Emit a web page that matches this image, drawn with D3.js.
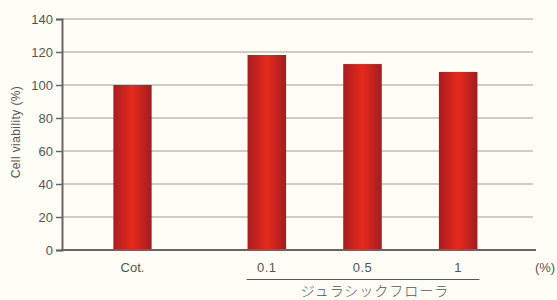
<!DOCTYPE html>
<html>
<head>
<meta charset="utf-8">
<script src="https://cdn.jsdelivr.net/npm/d3@7"></script>
<style>
  body { margin: 0; background: #fffef6; }
  svg { display: block; }
  text { font-family: "Liberation Sans", Arial, sans-serif; fill: #555; }
</style>
</head>
<body>
<svg width="557" height="300"></svg>
<script>
var svg = d3.select("svg"),
    width = +svg.attr("width"),
    height = +svg.attr("height");

// data
var controlCats = ["Cot."];
var controlVals = [100];
var concCats = ["0.1", "0.5", "1"];
var concVals = [118.2, 112.7, 107.9];
var yTicks = [0, 20, 40, 60, 80, 100, 120, 140];
var groupLabel = "ジュラシックフローラ";

let margin = { left: 62, right: 22, top: 19, bottom: 50 };

var y = d3.scaleLinear()
    .domain([0, 140])
    .range([height - margin.bottom, margin.top]);

// control group and concentration group sit in separate bands
var pad = 0.597;
var xConc = d3.scaleBand()
    .domain(concCats)
    .range([219, 506])
    .paddingInner(pad)
    .paddingOuter(pad / 2);

var xCtrl = d3.scaleBand()
    .domain(controlCats)
    .range([85, 180])
    .paddingInner(pad)
    .paddingOuter(pad / 2);

var defs = svg.append("defs");
var grad = defs.append("linearGradient")
    .attr("id", "barGrad")
    .attr("x1", "0%").attr("x2", "100%")
    .attr("y1", "0%").attr("y2", "0%");
grad.append("stop").attr("offset", "0%").attr("stop-color", "#a91c22");
grad.append("stop").attr("offset", "50%").attr("stop-color", "#e72a1a");
grad.append("stop").attr("offset", "100%").attr("stop-color", "#a21c23");

// grid lines
svg.append("g")
    .selectAll("line")
    .data(yTicks.filter(function(d) { return d > 0; }))
    .enter().append("line")
        .attr("x1", margin.left)
        .attr("x2", 533)
        .attr("y1", function(d) { return y(d); })
        .attr("y2", function(d) { return y(d); })
        .attr("stroke", "#bdbbb5")
        .attr("stroke-width", 1.5);

// bars
var bars = svg.append("g");
bars.selectAll("rect.ctrl")
    .data(controlCats)
    .enter().append("rect")
        .attr("class", "ctrl")
        .attr("x", function(d) { return xCtrl(d); })
        .attr("width", xCtrl.bandwidth())
        .attr("y", function(d, i) { return y(controlVals[i]); })
        .attr("height", function(d, i) { return y(0) - y(controlVals[i]); })
        .attr("fill", "url(#barGrad)");

bars.selectAll("rect.conc")
    .data(concCats)
    .enter().append("rect")
        .attr("class", "conc")
        .attr("x", function(d) { return xConc(d); })
        .attr("width", xConc.bandwidth())
        .attr("y", function(d, i) { return y(concVals[i]); })
        .attr("height", function(d, i) { return y(0) - y(concVals[i]); })
        .attr("fill", "url(#barGrad)");

// y axis
var yAxis = svg.append("g")
    .attr("transform", "translate(" + margin.left + ",0)")
    .call(d3.axisLeft(y).tickValues(yTicks).tickSize(6).tickPadding(3));
yAxis.select(".domain").attr("stroke", "#666").attr("stroke-width", 2);
yAxis.selectAll(".tick line").attr("stroke", "#666").attr("stroke-width", 1.5);
yAxis.selectAll(".tick text")
    .attr("font-size", "13px")
    .attr("font-family", "Liberation Sans, Arial, sans-serif")
    .attr("fill", "#555");

// x axis line
svg.append("line")
    .attr("x1", margin.left - 1)
    .attr("x2", 536)
    .attr("y1", y(0))
    .attr("y2", y(0))
    .attr("stroke", "#666")
    .attr("stroke-width", 2);

// x labels
var labelY = y(0) + 22;
svg.append("g").selectAll("text")
    .data(controlCats)
    .enter().append("text")
        .attr("x", function(d) { return xCtrl(d) + xCtrl.bandwidth() / 2; })
        .attr("y", labelY)
        .attr("text-anchor", "middle")
        .attr("font-size", "13px")
        .text(function(d) { return d; });

svg.append("g").selectAll("text")
    .data(concCats)
    .enter().append("text")
        .attr("x", function(d) { return xConc(d) + xConc.bandwidth() / 2; })
        .attr("y", labelY)
        .attr("text-anchor", "middle")
        .attr("font-size", "13px")
        .style("letter-spacing", "0.5px")
        .text(function(d) { return d; });

svg.append("text")
    .attr("x", 545)
    .attr("y", labelY)
    .attr("text-anchor", "middle")
    .attr("font-size", "13px")
    .text("(%)");

// group bracket line + label
svg.append("line")
    .attr("x1", xConc(concCats[0]) - 1)
    .attr("x2", xConc(concCats[concCats.length - 1]) + xConc.bandwidth() + 2)
    .attr("y1", 279.5)
    .attr("y2", 279.5)
    .attr("stroke", "#555")
    .attr("stroke-width", 1.2);

svg.append("text")
    .attr("x", 375)
    .attr("y", 296)
    .attr("text-anchor", "middle")
    .attr("font-size", "14px")
    .style("font-family", "'Noto Sans CJK JP', sans-serif")
    .style("font-weight", "300")
    .style("letter-spacing", "1px")
    .text(groupLabel);

// y title
svg.append("text")
    .attr("transform", "translate(20," + 132 + ") rotate(-90)")
    .attr("text-anchor", "middle")
    .attr("font-size", "12px")
    .style("letter-spacing", "0.4px")
    .text("Cell viability (%)");
</script>
</body>
</html>
